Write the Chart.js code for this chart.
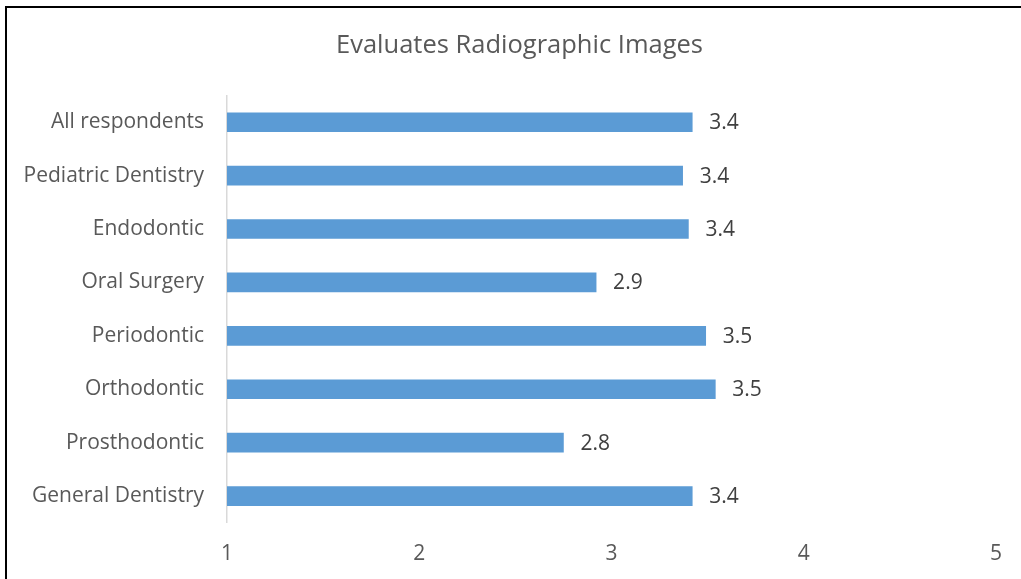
<!DOCTYPE html>
<html>
<head>
<meta charset="utf-8">
<script src="https://cdn.jsdelivr.net/npm/chart.js@4"></script>
<style>
  html, body { margin: 0; padding: 0; background: #fff; }
  #wrap { width: 1021px; height: 579px; position: relative; }
</style>
</head>
<body>
<div id="wrap"><canvas id="radioChart" width="1021" height="579"></canvas></div>
<script>
const categories = ['All respondents', 'Pediatric Dentistry', 'Endodontic', 'Oral Surgery',
                    'Periodontic', 'Orthodontic', 'Prosthodontic', 'General Dentistry'];
const scores = [3.42, 3.37, 3.40, 2.92, 3.49, 3.54, 2.75, 3.42];
const xTicks = [1, 2, 3, 4, 5];
const chartTitle = 'Evaluates Radiographic Images';

const barBlue = '#5B9BD5';
const textGrey = '#595959';

// value labels to the right of each bar
const valueLabels = {
    id: 'valueLabels',
    afterDatasetsDraw(chart) {
        const c = chart.ctx;
        const meta = chart.getDatasetMeta(0);
        c.save();
        c.font = '21px "Open Sans"';
        c.fillStyle = '#404040';
        c.textAlign = 'left';
        c.textBaseline = 'middle';
        meta.data.forEach(function (bar, i) {
            c.fillText(scores[i].toFixed(1), bar.x + 17, bar.y + 1);
        });
        c.restore();
    }
};

// title and outer frame, like the chart box in the source
const frame = {
    id: 'frame',
    afterDraw(chart) {
        const c = chart.ctx;
        c.save();
        c.font = '25.5px "Open Sans"';
        c.fillStyle = textGrey;
        c.textAlign = 'center';
        c.textBaseline = 'middle';
        c.fillText(chartTitle, 519.5, 46);
        c.strokeStyle = '#000';
        c.lineWidth = 2;
        c.strokeRect(6, 7, 1100, 700);
        c.restore();
    }
};

new Chart(document.getElementById('radioChart').getContext('2d'), {
    type: 'bar',
    data: {
        labels: categories,
        datasets: [{
            data: scores,
            backgroundColor: barBlue,
            barThickness: 19
        }]
    },
    options: {
        indexAxis: 'y',
        responsive: false,
        animation: false,
        layout: { padding: { left: 10, right: 25, top: 95.5, bottom: -7 } },
        plugins: {
            legend: { display: false },
            tooltip: { enabled: false },
            title: { display: false }
        },
        scales: {
            x: {
                min: 1,
                max: 5,
                afterBuildTicks(axis) { axis.ticks = xTicks.map(v => ({ value: v })); },
                afterFit(axis) { axis.paddingLeft = 0; axis.paddingRight = 0; },
                grid: { display: false, drawTicks: false },
                border: { display: false },
                ticks: {
                    color: textGrey,
                    padding: 19,
                    font: { family: '"Open Sans"', size: 21 }
                }
            },
            y: {
                afterFit(axis) {
                    axis.width = 217;
                    axis.paddingTop = 0;
                    axis.paddingBottom = 0;
                },
                grid: { display: false, drawTicks: false },
                border: { display: true, color: '#D9D9D9', width: 1.5 },
                ticks: {
                    color: textGrey,
                    padding: 23,
                    font: { family: '"Open Sans"', size: 21 }
                }
            }
        }
    },
    plugins: [valueLabels, frame]
});
</script>
</body>
</html>
